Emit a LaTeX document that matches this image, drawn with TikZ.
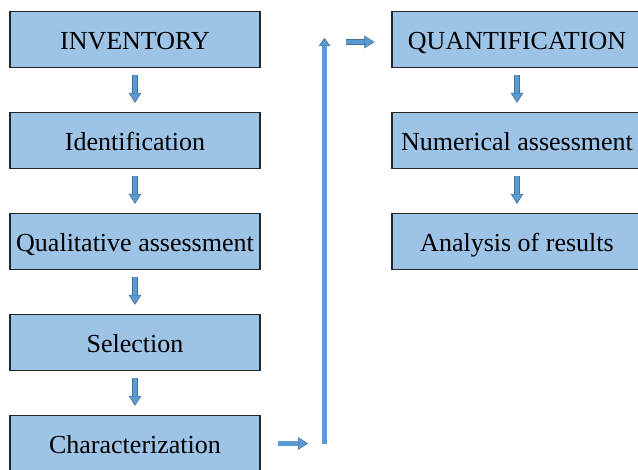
\documentclass[tikz,border=0pt]{standalone}
\usepackage{fontspec}
\setmainfont{Liberation Serif}
\usepackage{xcolor}
\usetikzlibrary{positioning,arrows.meta,calc}
\definecolor{boxfill}{HTML}{9DC3E6}
\definecolor{boxedge}{HTML}{262626}
\definecolor{arrowfill}{HTML}{5B9BD5}
\definecolor{arrowedge}{HTML}{41719C}
\tikzset{
  flow/.style={x=1pt,y=1pt,
    node distance=43.8pt},
  stage/.style={rectangle,draw=boxedge,fill=boxfill,line width=1.2pt,
    minimum width=250pt,minimum height=56pt,inner sep=0pt,
    text height=24pt,text depth=3pt,
    font=\fontsize{26}{30}\selectfont},
  blockarrow/.style={draw=arrowedge,double=arrowfill,double distance=4.2pt,
    line width=0.6pt,
    -{Triangle[width=12.5pt,length=10pt,fill=arrowfill,line width=0.6pt]}},
  stepdown/.style={blockarrow,shorten <=7pt,shorten >=9pt},
  riser/.style={blockarrow,-{Triangle[width=11.5pt,length=8pt,fill=arrowfill,line width=0.6pt]}}}

\begin{document}
\begin{tikzpicture}[flow]
  \useasboundingbox (0,0) rectangle (638,470);
  % left column
  \node[stage] (inv) at (135,430.5) {INVENTORY};
  \node[stage] (ident) [below=of inv] {Identification};
  \node[stage] (quali) [below=of ident] {Qualitative assessment};
  \node[stage] (select) [below=of quali] {Selection};
  \node[stage] (charac) [below=of select] {Characterization};
  % right column
  \node[stage] (quant) at (517,430.5) {QUANTIFICATION};
  \node[stage] (numer) [below=of quant] {Numerical assessment};
  \node[stage] (analys) [below=of numer] {Analysis of results};
  \coordinate (risebot) at (324.5,26);
  \coordinate (risetop) at (324.5,432);
  \draw[stepdown] (inv) -- (ident);
  \draw[stepdown] (ident) -- (quali);
  \draw[stepdown] (quali) -- (select);
  \draw[stepdown] (select) -- (charac);
  \draw[stepdown] (quant) -- (numer);
  \draw[stepdown] (numer) -- (analys);
  \draw[blockarrow,shorten <=17pt,shorten >=16.5pt] (charac.east) -- (charac.east -| risebot);
  \draw[riser] (risebot) -- (risetop);
  \draw[blockarrow,shorten <=21.5pt,shorten >=17pt] ([yshift=-2.5pt]risetop |- quant.west) -- ([yshift=-2.5pt]quant.west);
\end{tikzpicture}
\end{document}
